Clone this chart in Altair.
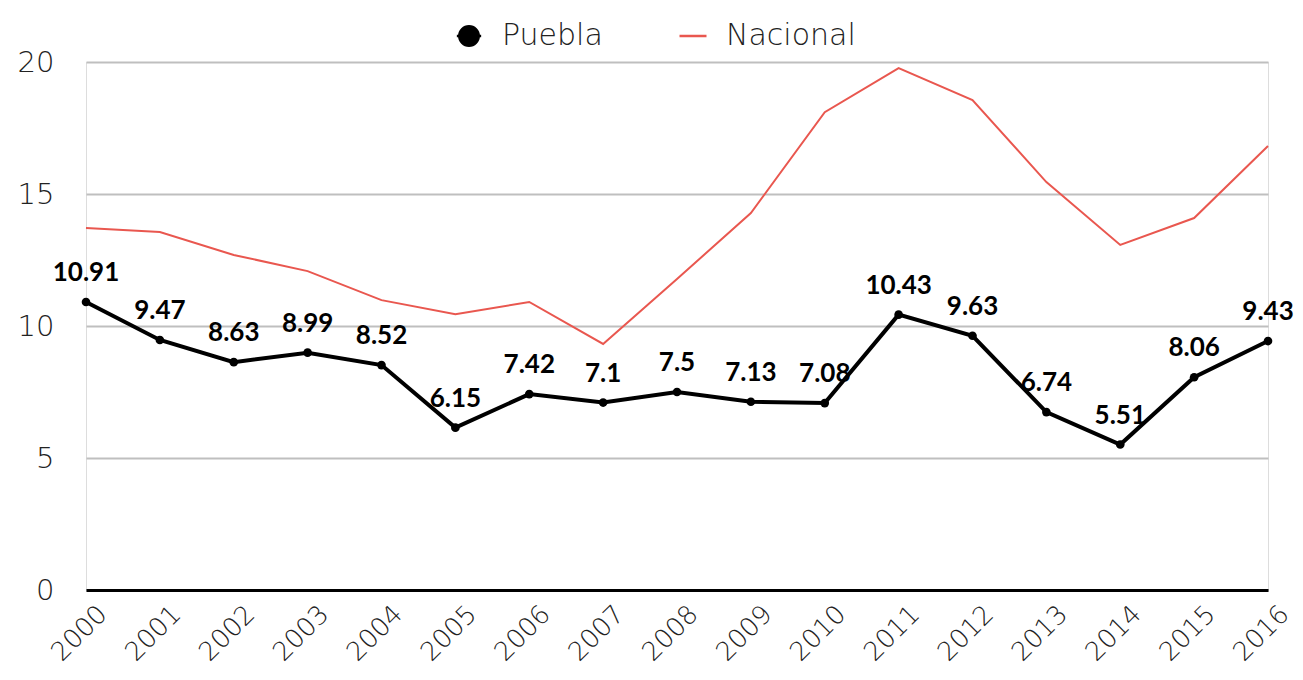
import altair as alt
import pandas as pd

years = [str(y) for y in range(2000, 2017)]
puebla = [10.91, 9.47, 8.63, 8.99, 8.52, 6.15, 7.42, 7.1, 7.5, 7.13, 7.08,
          10.43, 9.63, 6.74, 5.51, 8.06, 9.43]
nacional = [13.71, 13.56, 12.69, 12.08, 10.98, 10.45, 10.91, 9.32, 11.78, 14.28,
            18.10, 19.77, 18.56, 15.45, 13.07, 14.09, 16.82]
series_names = ["Puebla", "Nacional"]
series_colors = ["#000000", "#E9574F"]

df = pd.DataFrame({
    "year": years * 2,
    "value": puebla + nacional,
    "series": ["Puebla"] * len(years) + ["Nacional"] * len(years),
})
dfp = pd.DataFrame({"year": years, "value": puebla,
                    "label": [f"{v:g}" for v in puebla]})
dfn = pd.DataFrame({"year": years, "value": nacional})

AX_FONT = "DejaVu Sans"
LBL_FONT = "Lato"

x_enc = alt.X("year:O", scale=alt.Scale(type="point", padding=0), title=None,
              axis=alt.Axis(labelAngle=-45, labelAlign="center", labelBaseline="middle",
                            labelPadding=43, labelOffset=-7, labelFontSize=26, labelFont=AX_FONT,
                            labelFontWeight=200, labelColor="#222222",
                            ticks=False, domain=True, domainColor="#000000",
                            domainWidth=3, grid=False))
y_enc = alt.Y("value:Q", scale=alt.Scale(domain=[0, 20]), title=None,
              axis=alt.Axis(values=[0, 5, 10, 15, 20], ticks=False, domain=False,
                            grid=True, gridColor="#BFBFBF", gridWidth=2,
                            labelPadding=32, labelFontSize=29, labelFont=AX_FONT,
                            labelFontWeight=200, labelColor="#222222"))

line_n = alt.Chart(dfn).mark_line(color=series_colors[1], strokeWidth=2).encode(
    x=x_enc, y=y_enc)
line_p = alt.Chart(dfp).mark_line(color=series_colors[0], strokeWidth=4).encode(
    x=alt.X("year:O"), y=alt.Y("value:Q"))

points = alt.Chart(dfp).mark_circle(size=75, color="#000000", opacity=1).encode(
    x=alt.X("year:O"), y=alt.Y("value:Q"))

labels = alt.Chart(dfp).mark_text(font=LBL_FONT, fontWeight="bold", fontSize=26,
                                  color="#000000", dy=-29, baseline="middle").encode(
    x=alt.X("year:O"), y=alt.Y("value:Q"), text="label:N")

path_p = "M-0.9,0H0.9M-0.72,0A0.72,0.72,0,1,1,0.72,0A0.72,0.72,0,1,1,-0.72,0Z"
path_n = "M-1,0H1"
leg = alt.Legend(title=None, orient="none", direction="horizontal",
                 legendX=368, legendY=-41, symbolSize=729, symbolStrokeWidth=2.5,
                 labelFontSize=30, labelFont=AX_FONT, labelFontWeight=200,
                 labelColor="#222222", labelOffset=18, columnPadding=71)
legend_layer = alt.Chart(df).mark_point(
    filled=True, strokeWidth=2.5, size=0, opacity=1).encode(
    x=alt.X("year:O"), y=alt.Y("value:Q"),
    shape=alt.Shape("series:N", scale=alt.Scale(domain=series_names, range=[path_p, path_n]), legend=leg),
    fill=alt.Fill("series:N", scale=alt.Scale(domain=series_names, range=series_colors), legend=leg),
    stroke=alt.Stroke("series:N", scale=alt.Scale(domain=series_names, range=series_colors), legend=leg),
)

chart = alt.layer(line_n, line_p, legend_layer, points, labels).properties(
    width=1182, height=528,
    autosize=alt.AutoSizeParams(type="none"),
    padding={"left": 78, "top": 54, "right": 27, "bottom": 82},
).configure_view(stroke=None).configure(background="white")

chart.save("out.html", embed_options={"renderer": "svg", "actions": False})
